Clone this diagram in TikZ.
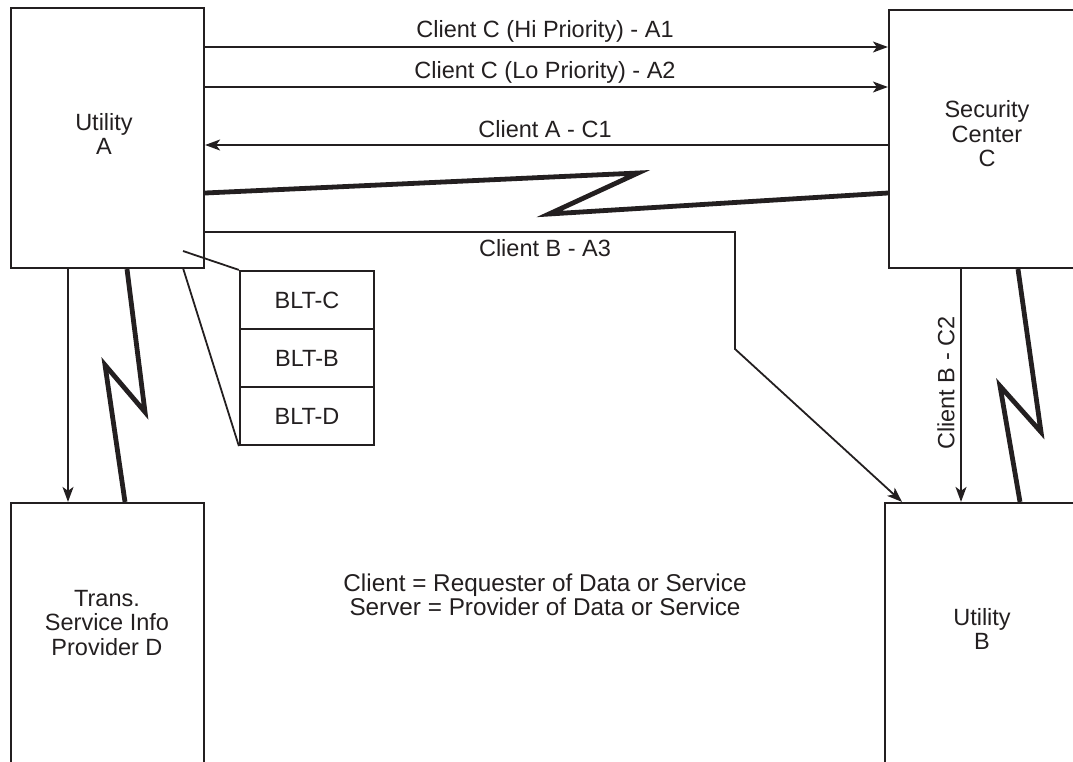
\documentclass[tikz,border=0pt]{standalone}
\usepackage{fontspec}
\setmainfont{Liberation Sans}
\usetikzlibrary{arrows.meta}
\definecolor{ink}{HTML}{231F20}
\begin{document}
\begin{tikzpicture}[x=1pt,y=-1pt,
  every node/.style={text=ink,font=\fontsize{23.5}{24.5}\selectfont},
  box/.style={draw=ink,line width=2.2pt,rectangle,inner sep=0pt},
  txt/.style={align=center,inner sep=0pt},
  arr/.style={draw=ink,line width=1.8pt,-{Stealth[length=15pt,width=11pt,inset=4pt]}},
  thin/.style={draw=ink,line width=1.8pt},
  bolt/.style={draw=ink,line width=4.8pt,line join=miter},
  blt/.style={draw=ink,line width=2.2pt,rectangle,minimum width=134pt,minimum height=58pt,inner sep=0pt}]
\useasboundingbox (0,0) rectangle (1073,761);
\clip (0,0) rectangle (1073,761);
% boxes
\node[box,minimum width=193pt,minimum height=260pt] (A) at (107.5,138) {};
\node[box,minimum width=196pt,minimum height=258pt] (C) at (987,139) {};
\node[box,minimum width=193pt,minimum height=300pt] (D) at (107.5,653) {};
\node[box,minimum width=194pt,minimum height=300pt] (B) at (982,653) {};
\node[txt] (Atxt) at (104,134) {Utility\\A};
\node[txt] (Ctxt) at (987,134) {Security\\Center\\C};
\node[txt] (Dtxt) at (107,623) {Trans.\\Service Info\\Provider D};
\node[txt] (Btxt) at (982,629) {Utility\\B};
% BLT stack
\node[blt] (bltc) at (307,300) {BLT-C};
\node[blt] (bltb) at (307,358) {BLT-B};
\node[blt] (bltd) at (307,416) {BLT-D};
\coordinate (p1) at (183,251);
\coordinate (p2) at (183,268);
\draw[thin] (p1) -- (bltc.north west);
\draw[thin] (p2) -- (bltd.south west);
% A <-> C arrows
\draw[arr] (A.east |- 0,47) -- (C.west |- 0,47);
\draw[arr] (A.east |- 0,87) -- (C.west |- 0,87);
\draw[arr] (C.west |- 0,145) -- (A.east |- 0,145);
\node[txt] (l1) at (545,31) {Client C (Hi Priority) - A1};
\node[txt] (l2) at (545,72) {Client C (Lo Priority) - A2};
\node[txt] (l3) at (545,129) {Client A - C1};
% lightning A-C
\coordinate (z1) at (638,173);
\coordinate (z2) at (549,214);
\draw[bolt] (A.east |- 0,193) -- (z1) -- (z2) -- (C.west |- 0,193);
% A3
\coordinate (k1) at (735,232);
\coordinate (k2) at (735,349);
\draw[arr] (A.east |- 0,232) -- (k1) -- (k2) -- (B.north west -| 902,0);
\node[txt] (l4) at (545,248) {Client B - A3};
% A -> D
\draw[arr] (A.south -| 68,0) -- (D.north -| 68,0);
\coordinate (y1) at (145,412);
\coordinate (y2) at (105,365);
\draw[bolt] (A.south -| 127,0) -- (y1) -- (y2) -- (D.north -| 125,0);
% C -> B
\draw[arr] (C.south -| 961,0) -- (B.north -| 961,0);
\node[txt,rotate=90] (l5) at (946,383) {Client B - C2};
\coordinate (w1) at (1041,432);
\coordinate (w2) at (1000,386);
\draw[bolt] (C.south -| 1018,0) -- (w1) -- (w2) -- (B.north -| 1020,0);
% legend
\node[txt,font=\fontsize{24.3}{23.5}\selectfont] (leg) at (545,595) {Client = Requester of Data or Service\\Server = Provider of Data or Service};
\end{tikzpicture}
\end{document}
